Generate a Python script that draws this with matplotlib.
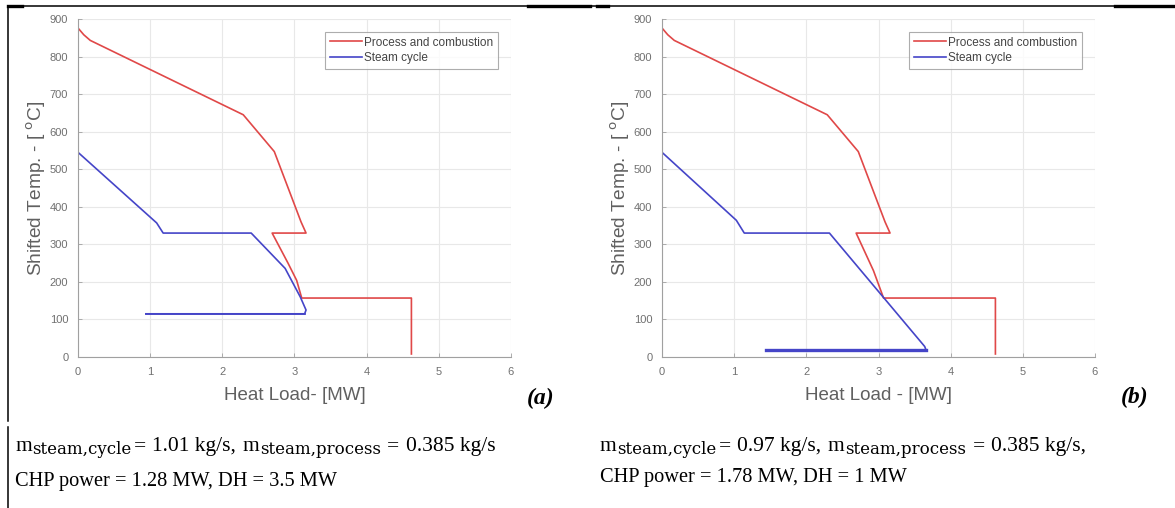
import matplotlib
matplotlib.use('Agg')
import matplotlib.pyplot as plt
from matplotlib.lines import Line2D

# figure size in pixels
W, H = 1175, 508

plt.rcParams['font.family'] = ['Liberation Sans', 'DejaVu Sans']

# data (heat load MW, shifted temp degC)
red_a_x = [0, 0.08, 0.17, 2.29, 2.72, 3.09, 3.16, 2.69, 2.91, 3.03, 3.10, 4.62, 4.62]
red_a_y = [876, 858, 843, 645, 547, 360, 330, 330, 250, 204, 157, 157, 8]
blue_a_x = [0, 1.09, 1.18, 2.40, 2.87, 3.08, 3.16, 3.14, 0.94]
blue_a_y = [545, 357, 330, 330, 236, 160, 125, 115, 115]

red_b_x = [0, 0.08, 0.17, 2.29, 2.72, 3.09, 3.16, 2.69, 2.93, 3.07, 4.62, 4.62]
red_b_y = [876, 858, 843, 645, 547, 360, 330, 330, 230, 157, 157, 8]
blue_b_x = [0, 1.03, 1.14, 2.32, 3.64, 3.66, 1.44]
blue_b_y = [545, 364, 330, 330, 28, 18, 18]

xticks = [0, 1, 2, 3, 4, 5, 6]
yticks = [0, 100, 200, 300, 400, 500, 600, 700, 800, 900]

legend_labels = ['Process and combustion', 'Steam cycle']
xlabels = ['Heat Load- [MW]', 'Heat Load - [MW]']
ylabel = r'Shifted Temp. - [ $^{\mathsf{o}}$C]'
tags = ['(a)', '(b)']
m_cycle = ['1.01', '0.97']
m_process = ['0.385 kg/s', '0.385 kg/s,']
chp_lines = ['CHP power = 1.28 MW, DH = 3.5 MW', 'CHP power = 1.78 MW, DH = 1 MW']

RED = '#e04848'
BLUE = '#4545c8'
GRID = '#e8e8e8'
AXC = '#a0a0a0'
TXT = '#606060'

MAIN = 15.5   # note text size
SUB = 12.0    # subscript size
SERIF = 'Liberation Serif'
SUBFONT = 'DejaVu Serif'   # wide subscripts as in the source scan


def px(x, y):
    return x / W, 1 - y / H


def setup_axes(ax, xlabel):
    ax.set_xlim(0, 6)
    ax.set_ylim(0, 900)
    ax.set_xticks(xticks)
    ax.set_yticks(yticks)
    ax.grid(True, color=GRID, lw=0.8)
    ax.set_axisbelow(True)
    for s in ['top', 'right']:
        ax.spines[s].set_visible(False)
    for s in ['left', 'bottom']:
        ax.spines[s].set_color(AXC)
        ax.spines[s].set_linewidth(0.8)
    ax.tick_params(direction='in', length=3, width=0.6, color=AXC,
                   labelsize=8, labelcolor='#707070', pad=7)
    ax.set_xlabel(xlabel, fontsize=13.5, color=TXT, va='center')
    ax.xaxis.set_label_coords(0.5, -38 / 338)
    ax.set_ylabel(ylabel, fontsize=13.8, color=TXT, va='center')
    ax.yaxis.set_label_coords(-42 / 432, 0.5)


fig = plt.figure(figsize=(W / 100, H / 100), dpi=100)
renderer = fig.canvas.get_renderer()

panels = [
    (78, red_a_x, red_a_y, blue_a_x, blue_a_y, 1.3),
    (662, red_b_x, red_b_y, blue_b_x, blue_b_y, 2.4),
]

for i, (x0, rx, ry, bx, by, lw_last) in enumerate(panels):
    left, bottom = px(x0, 357)
    ax = fig.add_axes([left, bottom, 433 / W, 338 / H])
    ax.plot(rx, ry, color=RED, lw=1.2, label=legend_labels[0])
    ax.plot(bx, by, color=BLUE, lw=1.2, label=legend_labels[1])
    ax.plot(bx[-2:], by[-2:], color=BLUE, lw=lw_last)
    setup_axes(ax, xlabels[i])
    leg = ax.legend(loc='upper right', bbox_to_anchor=(0.97, 0.962),
                    borderaxespad=0, fontsize=8.5, handlelength=2.7,
                    handletextpad=0.2, labelspacing=0.3, fancybox=False,
                    borderpad=0.4)
    leg.get_frame().set_edgecolor('#999999')
    leg.get_frame().set_linewidth(0.8)
    for t in leg.get_texts():
        t.set_color('#444444')

# panel tags
for tag, (tx, ty) in zip(tags, [(541, 398), (1135, 397)]):
    fig.text(*px(tx, ty), tag, fontsize=17, family=SERIF,
             weight='bold', style='italic', ha='center', va='center')


def write_run(x, y, pieces):
    # pieces: (text, size, family, baseline drop px, gap before px)
    for s, size, fam, drop, gap in pieces:
        x += gap
        t = fig.text(*px(x, y + drop), s, fontsize=size, family=fam,
                     ha='left', va='baseline')
        x = t.get_window_extent(renderer).x1


sp = 0.3 * MAIN * 100 / 72
for i, (x0, y1, y2) in enumerate([(15, 451, 486), (600, 451, 482)]):
    write_run(x0, y1, [
        ('m', MAIN, SERIF, 0, 0),
        ('steam,cycle', SUB, SUBFONT, 3, 0.5),
        ('=', MAIN, SERIF, 0, 2),
        (m_cycle[i] + ' kg/s,', MAIN, SERIF, 0, sp),
        ('m', MAIN, SERIF, 0, sp),
        ('steam,process', SUB, SUBFONT, 3, 0.5),
        ('=', MAIN, SERIF, 0, sp),
        (m_process[i], MAIN, SERIF, 0, sp),
    ])
    fig.text(*px(x0, y2), chp_lines[i], fontsize=14.7, family=SERIF,
             ha='left', va='baseline')


# table borders around the figure cells
def rule(x1, y1, x2, y2, lw=1.1):
    fig.add_artist(Line2D([x1 / W, x2 / W], [1 - y1 / H, 1 - y2 / H],
                          color='black', lw=lw, transform=fig.transFigure))


rule(8, 6, W, 6)
for a, b in [(8, 22), (528, 590), (597, 608), (1115, W)]:
    rule(a, 6, b, 6, lw=2.4)
rule(8, 6, 8, 421)
rule(7.5, 427, 7.5, H)

fig.savefig('out.png', dpi=100)
